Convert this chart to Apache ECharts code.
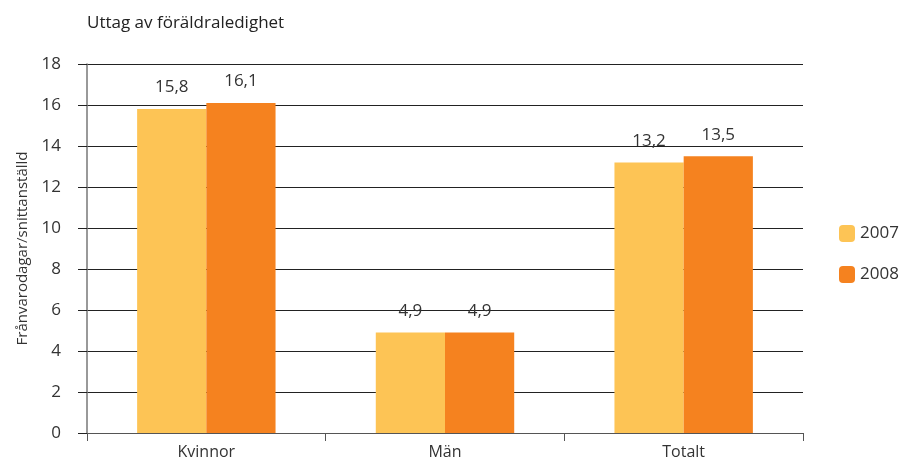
<!DOCTYPE html>
<html><head><meta charset="utf-8">
<script src="https://cdn.jsdelivr.net/npm/echarts@6/dist/echarts.min.js"></script>
<style>html,body{margin:0;padding:0;background:#fff}#c{width:905px;height:468px}</style>
</head><body><div id="c"></div>
<script>
var categories = ['Kvinnor', 'Män', 'Totalt'];
var seriesNames = ['2007', '2008'];
var values2007 = [15.8, 4.9, 13.2];
var values2008 = [16.1, 4.9, 13.5];
var yTicks = [0, 2, 4, 6, 8, 10, 12, 14, 16, 18];

var FONT = '"Open Sans", Lato, sans-serif';
var chart = echarts.init(document.getElementById('c'));
function fmt(p){ return String(p.value).replace('.', ','); }
chart.setOption({
  animation: false,
  textStyle: { fontFamily: FONT },
  title: {
    text: 'Uttag av föräldraledighet', left: 82, top: 10,
    textStyle: { fontSize: 17, fontWeight: 'normal', color: '#222', fontFamily: FONT }
  },
  legend: {
    orient: 'vertical', left: 834, top: 220, itemWidth: 16, itemHeight: 17, itemGap: 24,
    textStyle: { fontSize: 17, color: '#333', fontFamily: FONT },
    data: seriesNames
  },
  grid: { left: 87, right: 102, top: 64, bottom: 35 },
  xAxis: {
    type: 'category', data: categories,
    axisLine: { lineStyle: { color: '#555', width: 1 } },
    axisTick: { show: true, length: 8, alignWithLabel: false, lineStyle: { color: '#555' } },
    axisLabel: { fontSize: 16, color: '#333', margin: 11, fontFamily: FONT }
  },
  yAxis: {
    type: 'value', min: yTicks[0], max: yTicks[yTicks.length - 1], interval: 2,
    name: 'Frånvarodagar/snittanställd', nameLocation: 'middle', nameGap: 42,
    nameTextStyle: { fontSize: 15, color: '#333', fontFamily: FONT },
    axisLine: { show: true, lineStyle: { color: '#777', width: 1.5 } },
    axisTick: { show: true, length: 9, lineStyle: { color: '#222' } },
    axisLabel: { fontSize: 17, color: '#333', margin: 26, fontFamily: FONT },
    splitLine: { lineStyle: { color: '#222', width: 1 } }
  },
  series: [
    { name: seriesNames[0], type: 'bar', data: values2007, barGap: '0%', barCategoryGap: '42%',
      itemStyle: { color: '#FDC455' },
      label: { show: true, position: 'top', distance: 13, fontSize: 17, color: '#333', formatter: fmt, fontFamily: FONT } },
    { name: seriesNames[1], type: 'bar', data: values2008, barGap: '0%', barCategoryGap: '42%',
      itemStyle: { color: '#F5821F' },
      label: { show: true, position: 'top', distance: 13, fontSize: 17, color: '#333', formatter: fmt, fontFamily: FONT } }
  ]
});
</script></body></html>
